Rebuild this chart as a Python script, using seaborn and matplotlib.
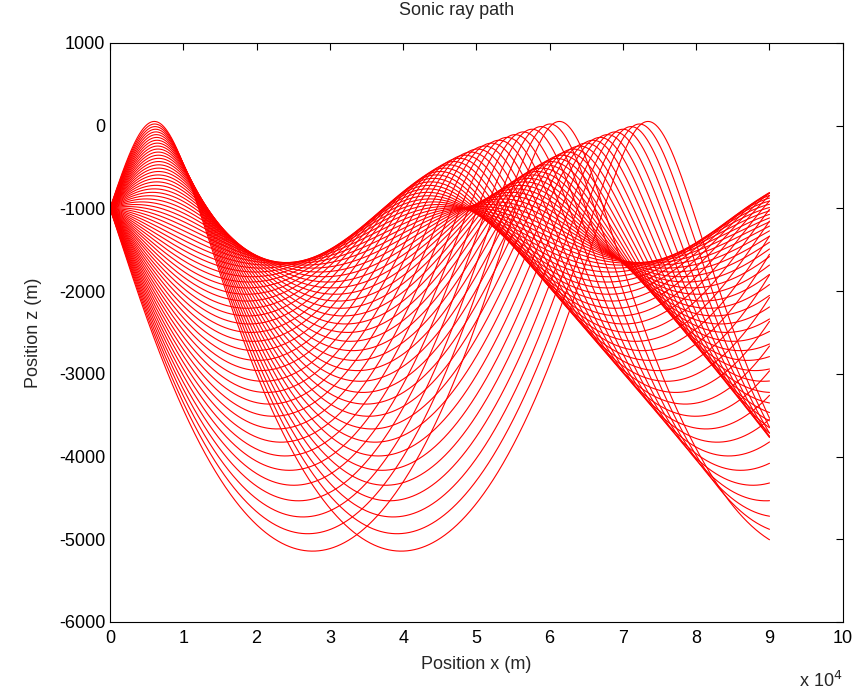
import numpy as np
import pandas as pd
import matplotlib
matplotlib.use('Agg')
import matplotlib.pyplot as plt
import seaborn as sns
from matplotlib.ticker import MultipleLocator, FuncFormatter

# Munk sound speed profile parameters (axis ~1300 m, source at 1000 m)
c0 = 1500.0
axis_depth = 1300.0
scale_B = 1300.0
eps = 0.00737
source_z = -1000.0
x_end = 90000.0

# launch angles in degrees (positive = upward)
launch_angles = [-15.0, -14.5, -14.0, -13.5, -13.0, -12.5, -12.0, -11.5, -11.0, -10.5,
                 -10.0, -9.5, -9.0, -8.5, -8.0, -7.5, -7.0, -6.5, -6.0, -5.5,
                 -5.0, -4.5, -4.0, -3.5, -3.0, -2.5, -2.0, -1.5, -1.0, -0.5,
                 0.0, 0.5, 1.0, 1.5, 2.0, 2.5, 3.0, 3.5, 4.0, 4.5,
                 5.0, 5.5, 6.0, 6.5, 7.0, 7.5, 8.0, 8.5, 9.0, 9.5,
                 10.0, 10.5, 11.0, 11.5, 12.0, 12.5, 13.0, 13.5, 14.0, 14.5, 15.0]


def speed(z):
    eta = 2 * (-z - axis_depth) / scale_B
    return c0 * (1 + eps * (eta + np.exp(-eta) - 1))


def dspeed_dz(z):
    eta = 2 * (-z - axis_depth) / scale_B
    return -c0 * eps * (2 / scale_B) * (1 - np.exp(-eta))


def deriv(z, th):
    return np.tan(th), -dspeed_dz(z) / speed(z)


# trace all rays together with RK4, x as the independent variable
dx = 50.0
xs = np.arange(0, x_end + dx, dx)
z = np.full(len(launch_angles), source_z)
th = np.radians(np.array(launch_angles))
zs = [z.copy()]
for _ in xs[1:]:
    k1z, k1t = deriv(z, th)
    k2z, k2t = deriv(z + 0.5 * dx * k1z, th + 0.5 * dx * k1t)
    k3z, k3t = deriv(z + 0.5 * dx * k2z, th + 0.5 * dx * k2t)
    k4z, k4t = deriv(z + dx * k3z, th + dx * k3t)
    z = z + dx / 6 * (k1z + 2 * k2z + 2 * k3z + k4z)
    th = th + dx / 6 * (k1t + 2 * k2t + 2 * k3t + k4t)
    zs.append(z.copy())
zs = np.array(zs)

rows = []
for i, ang in enumerate(launch_angles):
    rows.append(pd.DataFrame({'x': xs, 'z': zs[:, i], 'ray': i}))
df = pd.concat(rows, ignore_index=True)

sns.set_style('white')
plt.rcParams['font.family'] = ['Liberation Sans', 'DejaVu Sans']
plt.rcParams['axes.unicode_minus'] = False

fig = plt.figure(figsize=(8.53, 6.93), dpi=100)
ax = fig.add_axes([0.129, 0.1025, 0.859, 0.8355])
sns.lineplot(data=df, x='x', y='z', units='ray', estimator=None, sort=False,
             color='#ff0000', lw=0.8, ax=ax, legend=False)

ax.set_xlim(0, 100000)
ax.set_ylim(-6000, 1000)
ax.xaxis.set_major_locator(MultipleLocator(10000))
ax.yaxis.set_major_locator(MultipleLocator(1000))
ax.xaxis.set_major_formatter(FuncFormatter(lambda v, p: f'{v / 1e4:g}'))
ax.tick_params(direction='in', length=5, width=0.8, top=True, right=True,
               labelsize=13, colors='black')
ax.tick_params(axis='x', pad=6)
for sp in ax.spines.values():
    sp.set_color('black')
    sp.set_linewidth(0.8)

ax.set_title('Sonic ray path', fontsize=13, pad=20, x=0.473)
ax.set_xlabel('Position x (m)', fontsize=13, labelpad=6)
ax.set_ylabel('Position z (m)', fontsize=13, labelpad=12)
ax.text(1.0, -0.085, r'x 10$^4$', transform=ax.transAxes, ha='right', va='top', fontsize=13)

fig.savefig('out.png', dpi=100, facecolor='white')
